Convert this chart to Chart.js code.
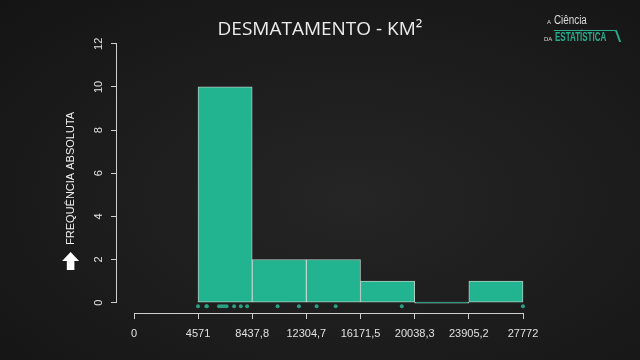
<!DOCTYPE html>
<html>
<head>
<meta charset="utf-8">
<script src="https://cdn.jsdelivr.net/npm/chart.js@4.4.0/dist/chart.umd.min.js"></script>
<style>
  html, body { margin: 0; padding: 0; }
  body {
    width: 640px; height: 360px; overflow: hidden; position: relative;
    background: radial-gradient(ellipse at 55% 55%, #252525 0%, #1c1c1c 55%, #141414 100%);
  }
  #wrap { position: absolute; left: 0; top: 0; width: 640px; height: 360px; }
  .logo { position: absolute; font-family: 'Liberation Sans', Arial, sans-serif; line-height: 1; transform-origin: left top; white-space: nowrap; }
  .logo-a { left: 547px; top: 19px; font-size: 6px; color: #d8d8d8; }
  .logo-ci { left: 554px; top: 14px; font-size: 12px; color: #dcdcdc; transform: scaleX(0.82); }
  .logo-da { left: 544px; top: 36px; font-size: 6px; color: #d8d8d8; }
  .logo-es { left: 555px; top: 31px; font-size: 12.5px; font-weight: bold; color: #27ad8c; transform: scaleX(0.64); }
  .logo-frame { position: absolute; left: 554px; top: 30px; width: 61px; height: 11px; border-top: 1px solid #27ad8c; }
  .logo-bar { position: absolute; left: 614px; top: 30px; width: 3px; height: 12px; border-right: 2px solid #27ad8c; transform: skewX(20deg); }
</style>
</head>
<body>
<div id="wrap"><canvas id="chart" width="640" height="360"></canvas></div>
<div class="logo logo-a">A</div>
<div class="logo logo-ci">Ciência</div>
<div class="logo logo-da">DA</div>
<div class="logo logo-es">ESTATÍSTICA</div>
<div class="logo-frame"></div>
<div class="logo-bar"></div>
<script>
// histogram data
var binEdges = [4571, 8437.8, 12304.7, 16171.5, 20038.3, 23905.2, 27772];
var counts = [10, 2, 2, 1, 0, 1];

// individual observations shown as a rug under the bars
var rugValues = [4571, 5172, 5200, 6073, 6252, 6430, 6610, 7146, 7625, 8075,
                 10250, 11773, 13039, 14398, 19118, 27772];
var rugLevel = -0.17;

var xTickValues = [0, 4571, 8437.8, 12304.7, 16171.5, 20038.3, 23905.2, 27772];
var xTickLabels = ['0', '4571', '8437,8', '12304,7', '16171,5', '20038,3', '23905,2', '27772'];
var yTickValues = [0, 2, 4, 6, 8, 10, 12];

var chartTitle = 'DESMATAMENTO - KM²';
var yTitle = 'FREQUÊNCIA ABSOLUTA';

var barColor = '#22b391';
var axisColor = '#cfcfcf';
var labelFont = { family: "'Liberation Sans', Arial, sans-serif", size: 11 };

var barData = counts.map(function(c, i) {
    return { x: (binEdges[i] + binEdges[i + 1]) / 2, y: c };
});
var rugData = rugValues.map(function(v) {
    return { x: v, y: rugLevel };
});

// axis lines that only span the tick range (R style) plus the arrow next to the y title
var axisLines = {
    id: 'axisLines',
    afterDraw: function(chart) {
        var ctx = chart.ctx;
        var area = chart.chartArea;
        var x = chart.scales.x, y = chart.scales.y;
        ctx.save();
        ctx.strokeStyle = axisColor;
        ctx.lineWidth = 1;
        ctx.beginPath();
        var yb = Math.round(area.bottom) + 0.5;
        ctx.moveTo(x.getPixelForValue(xTickValues[0]), yb);
        ctx.lineTo(x.getPixelForValue(xTickValues[xTickValues.length - 1]), yb);
        var xl = Math.round(area.left) - 0.5;
        ctx.moveTo(xl, y.getPixelForValue(yTickValues[0]));
        ctx.lineTo(xl, y.getPixelForValue(yTickValues[yTickValues.length - 1]));
        ctx.stroke();

        // arrow under the y title
        ctx.font = labelFont.size + 'px ' + labelFont.family;
        var w = ctx.measureText(yTitle).width;
        var cy = (area.top + area.bottom) / 2;
        var tip = cy + w / 2 + 7;
        var cx = y.left + labelFont.size * 1.2 / 2 + y.options.title.padding.top;
        ctx.fillStyle = '#ffffff';
        ctx.beginPath();
        ctx.moveTo(cx, tip);
        ctx.lineTo(cx + 8.5, tip + 9);
        ctx.lineTo(cx + 3.8, tip + 9);
        ctx.lineTo(cx + 3.8, tip + 18);
        ctx.lineTo(cx - 3.8, tip + 18);
        ctx.lineTo(cx - 3.8, tip + 9);
        ctx.lineTo(cx - 8.5, tip + 9);
        ctx.closePath();
        ctx.fill();
        ctx.restore();
    }
};

var ctx = document.getElementById('chart').getContext('2d');
window.myChart = new Chart(ctx, {
    type: 'bar',
    data: {
        datasets: [
            {
                type: 'bar',
                data: barData,
                backgroundColor: barColor,
                borderColor: 'rgba(215, 245, 232, 0.8)',
                borderWidth: 1,
                borderSkipped: false,
                minBarLength: 1,
                barPercentage: 1,
                categoryPercentage: 1,
                order: 2
            },
            {
                type: 'scatter',
                data: rugData,
                backgroundColor: '#2a9f82',
                borderWidth: 0,
                pointRadius: 2,
                order: 1
            }
        ]
    },
    plugins: [axisLines],
    options: {
        responsive: false,
        animation: false,
        events: [],
        layout: { padding: { left: 0, right: 0, top: 0, bottom: 17 } },
        plugins: {
            legend: { display: false },
            tooltip: { enabled: false },
            title: {
                display: true,
                text: chartTitle,
                color: '#ececec',
                font: { family: "'Open Sans', sans-serif", size: 19, weight: 'normal' },
                padding: { top: 18, bottom: 3 }
            }
        },
        scales: {
            x: {
                type: 'linear',
                min: -1214,
                max: 35839,
                offset: false,
                afterBuildTicks: function(axis) {
                    axis.ticks = xTickValues.map(function(v) { return { value: v }; });
                },
                afterFit: function(axis) { axis.height = 30; },
                grid: { display: true, drawOnChartArea: false, drawTicks: true, tickLength: 6, color: axisColor, offset: false },
                border: { display: false },
                ticks: {
                    autoSkip: false,
                    maxRotation: 0,
                    padding: 8,
                    color: '#e0e0e0',
                    font: labelFont,
                    callback: function(value, index) { return xTickLabels[index]; }
                }
            },
            y: {
                min: -0.48,
                max: 12,
                afterBuildTicks: function(axis) {
                    axis.ticks = yTickValues.map(function(v) { return { value: v }; });
                },
                afterFit: function(axis) { axis.width = 117; },
                grid: { display: true, drawOnChartArea: false, drawTicks: true, tickLength: 6, color: axisColor },
                border: { display: false },
                ticks: {
                    minRotation: 90,
                    maxRotation: 90,
                    crossAlign: 'center',
                    padding: 6,
                    color: '#e0e0e0',
                    font: labelFont
                },
                title: {
                    display: true,
                    text: yTitle,
                    color: '#f2f2f2',
                    font: labelFont,
                    padding: { top: 64, bottom: 0 }
                }
            }
        }
    }
});
</script>
</body>
</html>
